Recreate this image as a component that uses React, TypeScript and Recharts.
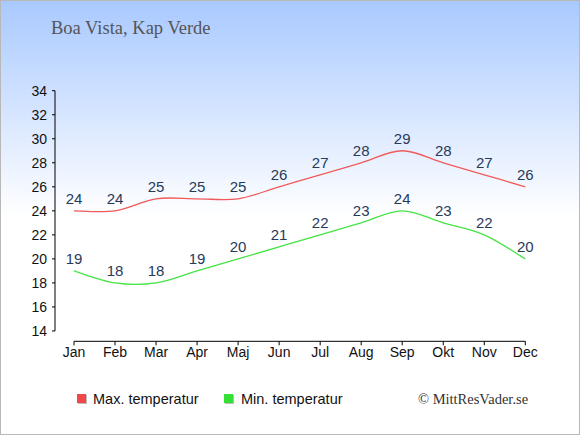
import { LineChart, Line, XAxis, YAxis, LabelList } from "recharts"

const months = ["Jan", "Feb", "Mar", "Apr", "Maj", "Jun", "Jul", "Aug", "Sep", "Okt", "Nov", "Dec"]
const maxTemp = [24, 24, 25, 25, 25, 26, 27, 28, 29, 28, 27, 26]
const minTemp = [19, 18, 18, 19, 20, 21, 22, 23, 24, 23, 22, 20]
const yTicks = [14, 16, 18, 20, 22, 24, 26, 28, 30, 32, 34]

const data = months.map((m, i) => ({ m, max: maxTemp[i], min: minTemp[i] }))

// catmull-rom style curve, goes through every point but may swing a little past them
function smoothCurve(context: any) {
  let pts: number[][] = []
  return {
    areaStart() {},
    areaEnd() {},
    lineStart() {
      pts = []
    },
    point(x: number, y: number) {
      pts.push([+x, +y])
    },
    lineEnd() {
      if (!pts.length) return
      context.moveTo(pts[0][0], pts[0][1])
      for (let i = 0; i < pts.length - 1; i++) {
        const p0 = pts[i - 1] || pts[i]
        const p1 = pts[i]
        const p2 = pts[i + 1]
        const p3 = pts[i + 2] || pts[i + 1]
        context.bezierCurveTo(
          p1[0] + (p2[0] - p0[0]) / 6,
          p1[1] + (p2[1] - p0[1]) / 6,
          p2[0] - (p3[0] - p1[0]) / 6,
          p2[1] - (p3[1] - p1[1]) / 6,
          p2[0],
          p2[1]
        )
      }
    },
  }
}

const labelStyle = { fill: "#283a5a", fontSize: 15, fontFamily: "Liberation Sans, Arial, sans-serif" }
const tickStyle = { fill: "#111", fontSize: 14, fontFamily: "Liberation Sans, Arial, sans-serif" }

export default function App() {
  return (
    <div
      style={{
        position: "fixed",
        left: 0,
        top: 0,
        width: 580,
        height: 435,
        boxSizing: "border-box",
        border: "1px solid #b8b8b8",
        background: "linear-gradient(to bottom, #a9c9ff 0px, #ffffff 215px, #ffffff 100%)",
      }}
    >
      <div
        style={{
          position: "absolute",
          left: 50,
          top: 17,
          fontFamily: "Liberation Serif, serif",
          fontSize: 18.5,
          color: "#555",
        }}
      >
        Boa Vista, Kap Verde
      </div>
      <LineChart width={578} height={433} data={data} margin={{ top: 89.7, right: 34.7, bottom: 62.7, left: 0 }}>
        <XAxis
          dataKey="m"
          scale="point"
          padding={{ left: 19, right: 19 }}
          height={30}
          tick={tickStyle}
          tickSize={4}
          tickMargin={2}
          axisLine={{ stroke: "#000", strokeDasharray: "0 19 451.3 100" }}
          tickLine={{ stroke: "#000" }}
        />
        <YAxis
          type="number"
          domain={[13.14, 34]}
          ticks={yTicks}
          allowDataOverflow
          width={54}
          tick={tickStyle}
          tickSize={3}
          tickMargin={5}
          axisLine={{ stroke: "#000", strokeDasharray: "240.3 100" }}
          tickLine={{ stroke: "#000" }}
        />
        <Line
          dataKey="max"
          type={smoothCurve as any}
          stroke="#f05a5a"
          strokeWidth={1.3}
          dot={false}
          isAnimationActive={false}
        >
          <LabelList dataKey="max" position="top" offset={7} style={labelStyle} />
        </Line>
        <Line
          dataKey="min"
          type={smoothCurve as any}
          stroke="#44e444"
          strokeWidth={1.3}
          dot={false}
          isAnimationActive={false}
        >
          <LabelList dataKey="min" position="top" offset={7} style={labelStyle} />
        </Line>
      </LineChart>
      <div
        style={{
          position: "absolute",
          left: 0,
          top: 389,
          width: 578,
          fontFamily: "Liberation Sans, Arial, sans-serif",
          fontSize: 14.5,
          color: "#111",
          lineHeight: "18px",
        }}
      >
        <span style={{ position: "absolute", left: 76, top: 4, width: 9, height: 9, background: "#f04848", boxShadow: "1px 1px 0 #bbb" }} />
        <span style={{ position: "absolute", left: 92 }}>Max. temperatur</span>
        <span style={{ position: "absolute", left: 223, top: 4, width: 9, height: 9, background: "#33e033", boxShadow: "1px 1px 0 #bbb" }} />
        <span style={{ position: "absolute", left: 240 }}>Min. temperatur</span>
        <span style={{ position: "absolute", left: 417, fontFamily: "Liberation Serif, serif", fontSize: 14.5, color: "#333" }}>
          © MittResVader.se
        </span>
      </div>
    </div>
  )
}
